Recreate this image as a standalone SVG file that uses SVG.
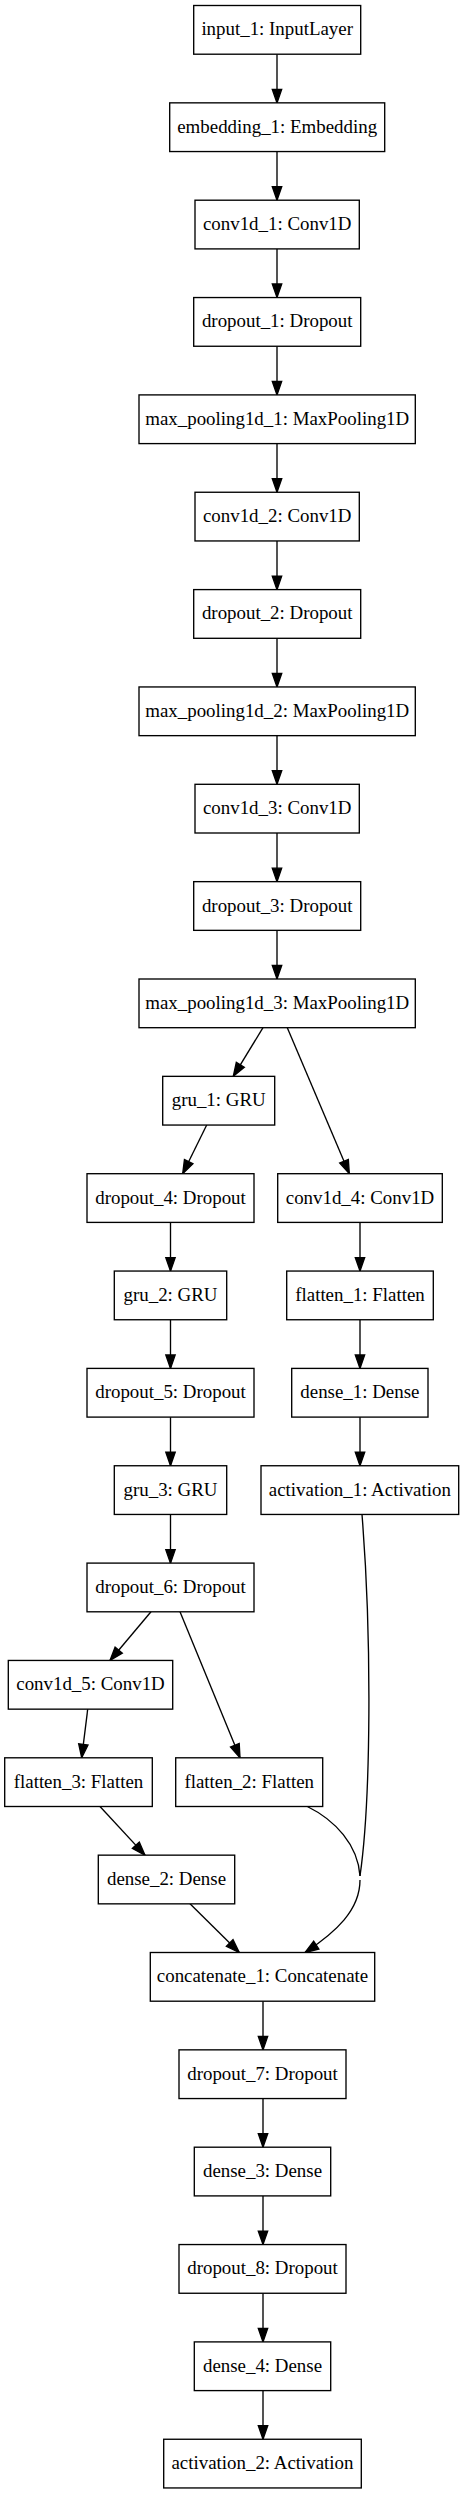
<svg xmlns="http://www.w3.org/2000/svg" width="464" height="2493" viewBox="0 0 464 2493">
<style>
.n rect{fill:#fff;stroke:#000;stroke-width:1.35}
.n text{font-family:"Liberation Serif","Times New Roman",serif;font-size:18.9px;fill:#000;text-anchor:middle}
#edges path{fill:none;stroke:#000;stroke-width:1.35}
#edges .a{marker-end:url(#ah)}
</style>
<defs>
<marker id="ah" markerUnits="userSpaceOnUse" markerWidth="14" markerHeight="10" refX="13.5" refY="4.7" orient="auto" overflow="visible">
<path d="M0,0 L13.5,4.7 L0,9.4 z" fill="#000" stroke="#000" stroke-width="1.35"/>
</marker>
</defs>
<rect width="464" height="2493" fill="#fff"/>
<g id="edges">
<path class="a" d="M277,54.2 V102.85"/>
<path class="a" d="M277,151.55 V200.2"/>
<path class="a" d="M277,248.9 V297.55"/>
<path class="a" d="M277,346.25 V394.9"/>
<path class="a" d="M277,443.6 V492.25"/>
<path class="a" d="M277,540.95 V589.6"/>
<path class="a" d="M277,638.3 V686.95"/>
<path class="a" d="M277,735.65 V784.3"/>
<path class="a" d="M277,833 V881.65"/>
<path class="a" d="M277,930.35 V979"/>
<path class="a" d="M263,1027.7 L233.3,1076.35"/>
<path class="a" d="M287.3,1027.7 L349.3,1173.7"/>
<path class="a" d="M206.7,1125.05 L182.7,1173.7"/>
<path class="a" d="M170.5,1222.4 V1271.05"/>
<path class="a" d="M170.5,1319.75 V1368.4"/>
<path class="a" d="M170.5,1417.1 V1465.75"/>
<path class="a" d="M170.5,1514.45 V1563.1"/>
<path class="a" d="M360,1222.4 V1271.05"/>
<path class="a" d="M360,1319.75 V1368.4"/>
<path class="a" d="M360,1417.1 V1465.75"/>
<path class="a" d="M151,1611.8 L110,1660.45"/>
<path class="a" d="M180,1611.8 L240,1757.8"/>
<path class="a" d="M87.7,1709.15 L81.7,1757.8"/>
<path class="a" d="M100,1806.5 L145,1855.15"/>
<path class="a" d="M190,1903.85 L239.3,1952.5"/>
<path d="M362,1514.45 C372,1640 371,1800 360,1876"/>
<path d="M307.3,1806.5 C335,1820 358,1845 360,1876"/>
<path class="a" d="M360,1880 C360,1910 336,1932 305,1952.5"/>
<path class="a" d="M263,2001.2 V2049.85"/>
<path class="a" d="M263,2098.55 V2147.2"/>
<path class="a" d="M263,2195.9 V2244.55"/>
<path class="a" d="M263,2293.25 V2341.9"/>
<path class="a" d="M263,2390.6 V2439.25"/>
</g>
<g id="input_1" class="n"><rect x="193.7" y="5.5" width="167" height="48.7"/><text x="277.2" y="35.35">input_1: InputLayer</text></g>
<g id="embedding_1" class="n"><rect x="169.7" y="102.85" width="215" height="48.7"/><text x="277.2" y="132.7">embedding_1: Embedding</text></g>
<g id="conv1d_1" class="n"><rect x="195" y="200.2" width="164.3" height="48.7"/><text x="277.2" y="230.05">conv1d_1: Conv1D</text></g>
<g id="dropout_1" class="n"><rect x="193.7" y="297.55" width="167" height="48.7"/><text x="277.2" y="327.4">dropout_1: Dropout</text></g>
<g id="max_pooling1d_1" class="n"><rect x="139" y="394.9" width="276.3" height="48.7"/><text x="277.2" y="424.75">max_pooling1d_1: MaxPooling1D</text></g>
<g id="conv1d_2" class="n"><rect x="195" y="492.25" width="164.3" height="48.7"/><text x="277.2" y="522.1">conv1d_2: Conv1D</text></g>
<g id="dropout_2" class="n"><rect x="193.7" y="589.6" width="167" height="48.7"/><text x="277.2" y="619.45">dropout_2: Dropout</text></g>
<g id="max_pooling1d_2" class="n"><rect x="139" y="686.95" width="276.3" height="48.7"/><text x="277.2" y="716.8">max_pooling1d_2: MaxPooling1D</text></g>
<g id="conv1d_3" class="n"><rect x="195" y="784.3" width="164.3" height="48.7"/><text x="277.2" y="814.15">conv1d_3: Conv1D</text></g>
<g id="dropout_3" class="n"><rect x="193.7" y="881.65" width="167" height="48.7"/><text x="277.2" y="911.5">dropout_3: Dropout</text></g>
<g id="max_pooling1d_3" class="n"><rect x="139" y="979" width="276.3" height="48.7"/><text x="277.2" y="1008.85">max_pooling1d_3: MaxPooling1D</text></g>
<g id="gru_1" class="n"><rect x="162.7" y="1076.35" width="112" height="48.7"/><text x="218.7" y="1106.2">gru_1: GRU</text></g>
<g id="dropout_4" class="n"><rect x="87" y="1173.7" width="167" height="48.7"/><text x="170.5" y="1203.55">dropout_4: Dropout</text></g>
<g id="conv1d_4" class="n"><rect x="277.7" y="1173.7" width="164.6" height="48.7"/><text x="360" y="1203.55">conv1d_4: Conv1D</text></g>
<g id="gru_2" class="n"><rect x="114.3" y="1271.05" width="112.4" height="48.7"/><text x="170.5" y="1300.9">gru_2: GRU</text></g>
<g id="flatten_1" class="n"><rect x="286.7" y="1271.05" width="146.6" height="48.7"/><text x="360" y="1300.9">flatten_1: Flatten</text></g>
<g id="dropout_5" class="n"><rect x="87" y="1368.4" width="167" height="48.7"/><text x="170.5" y="1398.25">dropout_5: Dropout</text></g>
<g id="dense_1" class="n"><rect x="291.7" y="1368.4" width="136.3" height="48.7"/><text x="359.85" y="1398.25">dense_1: Dense</text></g>
<g id="gru_3" class="n"><rect x="114.3" y="1465.75" width="112.4" height="48.7"/><text x="170.5" y="1495.6">gru_3: GRU</text></g>
<g id="activation_1" class="n"><rect x="261" y="1465.75" width="197.7" height="48.7"/><text x="359.85" y="1495.6">activation_1: Activation</text></g>
<g id="dropout_6" class="n"><rect x="87" y="1563.1" width="167" height="48.7"/><text x="170.5" y="1592.95">dropout_6: Dropout</text></g>
<g id="conv1d_5" class="n"><rect x="8.3" y="1660.45" width="164.4" height="48.7"/><text x="90.5" y="1690.3">conv1d_5: Conv1D</text></g>
<g id="flatten_3" class="n"><rect x="4.7" y="1757.8" width="147.6" height="48.7"/><text x="78.5" y="1787.65">flatten_3: Flatten</text></g>
<g id="flatten_2" class="n"><rect x="175.7" y="1757.8" width="147" height="48.7"/><text x="249.2" y="1787.65">flatten_2: Flatten</text></g>
<g id="dense_2" class="n"><rect x="98.3" y="1855.15" width="136.4" height="48.7"/><text x="166.5" y="1885">dense_2: Dense</text></g>
<g id="concatenate_1" class="n"><rect x="150.3" y="1952.5" width="224.4" height="48.7"/><text x="262.5" y="1982.35">concatenate_1: Concatenate</text></g>
<g id="dropout_7" class="n"><rect x="179" y="2049.85" width="167" height="48.7"/><text x="262.5" y="2079.7">dropout_7: Dropout</text></g>
<g id="dense_3" class="n"><rect x="194.3" y="2147.2" width="136.4" height="48.7"/><text x="262.5" y="2177.05">dense_3: Dense</text></g>
<g id="dropout_8" class="n"><rect x="179" y="2244.55" width="167" height="48.7"/><text x="262.5" y="2274.4">dropout_8: Dropout</text></g>
<g id="dense_4" class="n"><rect x="194.3" y="2341.9" width="136.4" height="48.7"/><text x="262.5" y="2371.75">dense_4: Dense</text></g>
<g id="activation_2" class="n"><rect x="163.7" y="2439.25" width="197.6" height="48.7"/><text x="262.5" y="2469.1">activation_2: Activation</text></g>
</svg>
